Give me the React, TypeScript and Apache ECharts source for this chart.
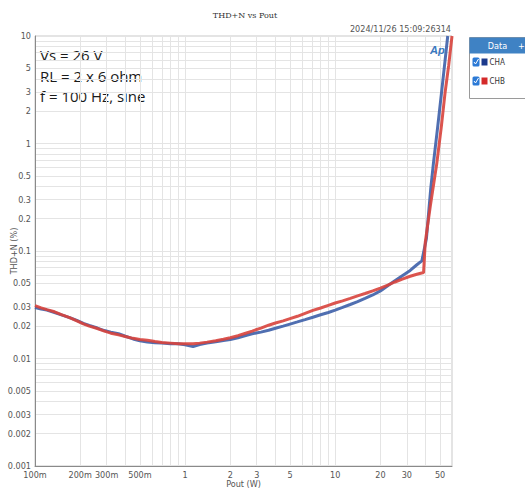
import React, { useEffect, useRef } from "react";
import * as echarts from "echarts";

const pA = [0.1, 0.11, 0.12, 0.135, 0.15, 0.17, 0.19, 0.21, 0.23, 0.26, 0.29, 0.32, 0.36, 0.4, 0.45, 0.5, 0.56, 0.63, 0.7, 0.8, 0.9, 1.0, 1.13, 1.25, 1.4, 1.6, 1.8, 2.0, 2.25, 2.5, 2.8, 3.2, 3.6, 4.0, 4.5, 5.0, 5.6, 6.3, 7.1, 8.0, 9.0, 10, 11.2, 12.6, 14.1, 15.8, 17.8, 20, 22.4, 25, 28, 31.6, 35, 37.8, 40.5, 43.3, 45.1, 48, 51, 54, 56.2];
const thdA = [0.0298, 0.0288, 0.0282, 0.0268, 0.0255, 0.024, 0.0226, 0.0212, 0.0203, 0.0192, 0.0182, 0.0176, 0.017, 0.0161, 0.0152, 0.0146, 0.0142, 0.014, 0.0139, 0.0137, 0.0137, 0.0134, 0.0129, 0.0135, 0.0139, 0.0143, 0.0147, 0.015, 0.0156, 0.0163, 0.017, 0.0176, 0.0183, 0.0191, 0.02, 0.0209, 0.0219, 0.023, 0.0242, 0.0255, 0.0268, 0.0282, 0.0299, 0.0318, 0.0338, 0.0362, 0.039, 0.0425, 0.0475, 0.053, 0.059, 0.066, 0.0745, 0.081, 0.13, 0.38, 0.65, 1.37, 2.9, 6.0, 10];

const pB = [0.1, 0.11, 0.12, 0.135, 0.15, 0.17, 0.19, 0.21, 0.23, 0.26, 0.29, 0.32, 0.36, 0.4, 0.45, 0.5, 0.56, 0.63, 0.7, 0.8, 0.9, 1.0, 1.13, 1.25, 1.4, 1.6, 1.8, 2.0, 2.25, 2.5, 2.8, 3.2, 3.6, 4.0, 4.5, 5.0, 5.6, 6.3, 7.1, 8.0, 9.0, 10, 11.2, 12.6, 14.1, 15.8, 17.8, 20, 22.4, 25, 28, 31.6, 35, 38.8, 39.8, 43, 47.5, 51, 54, 57, 60];
const thdB = [0.031, 0.0296, 0.0285, 0.0272, 0.0256, 0.024, 0.0224, 0.021, 0.02, 0.019, 0.018, 0.0172, 0.0166, 0.016, 0.0154, 0.015, 0.0148, 0.0144, 0.0141, 0.0139, 0.0137, 0.0137, 0.0137, 0.0139, 0.0142, 0.0146, 0.0151, 0.0156, 0.0163, 0.0171, 0.018, 0.0192, 0.0204, 0.0214, 0.0224, 0.0235, 0.0247, 0.0263, 0.028, 0.0295, 0.0312, 0.0328, 0.0344, 0.0362, 0.0382, 0.0402, 0.0425, 0.0452, 0.0482, 0.0515, 0.0548, 0.0582, 0.0608, 0.063, 0.12, 0.26, 0.65, 1.45, 3.0, 5.3, 10];

const xTickLabels = [0.1, 0.2, 0.3, 0.5, 1, 2, 3, 5, 10, 20, 30, 50];
const yTickLabels = [10, 5, 3, 2, 1, 0.5, 0.3, 0.2, 0.1, 0.05, 0.03, 0.02, 0.01, 0.005, 0.003, 0.002, 0.001];
const xGridValues = [0.1, 0.2, 0.3, 0.4, 0.5, 0.6, 0.7, 0.8, 0.9, 1, 2, 3, 4, 5, 6, 7, 8, 9, 10, 20, 30, 40, 50, 60];
const yGridValues = [
  0.001, 0.002, 0.003, 0.004, 0.005, 0.006, 0.007, 0.008, 0.009,
  0.01, 0.02, 0.03, 0.04, 0.05, 0.06, 0.07, 0.08, 0.09,
  0.1, 0.2, 0.3, 0.4, 0.5, 0.6, 0.7, 0.8, 0.9,
  1, 2, 3, 4, 5, 6, 7, 8, 9, 10,
];
const X_MIN = 0.1;
const X_MAX = 60;
const Y_MIN = 0.001;
const Y_MAX = 10;

const lg = (v: number) => Math.log10(v);
const unlg = (v: number) => Number(Math.pow(10, v).toPrecision(3));

const fmtX = (v: number) => {
  const p = unlg(v);
  return p < 1 ? `${Math.round(p * 1000)}m` : `${Math.round(p)}`;
};
const fmtY = (v: number) => `${unlg(v)}`;

const LABEL_FONT = "'DejaVu Sans Condensed', 'Liberation Sans Narrow', 'Liberation Sans', sans-serif";

export default function App() {
  const ref = useRef<HTMLDivElement>(null);
  useEffect(() => {
    document.body.style.margin = "0";
    if (!ref.current) return;
    const chart = echarts.init(ref.current, undefined, { renderer: "svg" });
    const option: any = {
      animation: false,
      backgroundColor: "#ffffff",
      grid: {
        left: 35,
        right: 73,
        top: 36,
        bottom: 30,
        containLabel: false,
        outerBoundsMode: "none",
        show: true,
        borderColor: "#c8c8c8",
        borderWidth: 1,
        backgroundColor: "transparent",
      },
      title: {
        text: "THD+N vs Pout",
        left: 240,
        top: 6,
        textAlign: "center",
        textStyle: { fontSize: 8, fontWeight: "normal", color: "#333", fontFamily: "'DejaVu Serif', serif" },
      },
      xAxis: {
        type: "value",
        min: lg(X_MIN),
        max: lg(X_MAX),
        name: "Pout (W)",
        nameLocation: "middle",
        nameGap: 13,
        nameMoveOverlap: false,
        nameTextStyle: { fontSize: 9, color: "#555", fontFamily: LABEL_FONT },
        axisLine: { show: true, onZero: false, lineStyle: { color: "#8a8a8a", width: 1 } },
        axisTick: { show: false, customValues: xGridValues.map(lg) },
        axisLabel: {
          customValues: xTickLabels.map(lg),
          formatter: fmtX,
          fontSize: 9,
          color: "#555",
          margin: 4,
          fontFamily: LABEL_FONT,
          showMinLabel: true,
          showMaxLabel: true,
        },
        splitLine: { show: true, lineStyle: { color: "#e4e4e4", width: 1 } },
      },
      yAxis: {
        type: "value",
        min: lg(Y_MIN),
        max: lg(Y_MAX),
        name: "THD+N (%)",
        nameLocation: "middle",
        nameGap: 17,
        nameRotate: 90,
        nameMoveOverlap: false,
        nameTextStyle: { fontSize: 9, color: "#555", fontFamily: LABEL_FONT },
        axisLine: { show: true, onZero: false, lineStyle: { color: "#8a8a8a", width: 1 } },
        axisTick: { show: false, customValues: yGridValues.map(lg) },
        axisLabel: {
          customValues: yTickLabels.map(lg),
          formatter: fmtY,
          fontSize: 9,
          color: "#555",
          margin: 4,
          fontFamily: LABEL_FONT,
        },
        splitLine: { show: true, lineStyle: { color: "#e4e4e4", width: 1 } },
      },
      series: [
        {
          name: "CHA",
          type: "line",
          data: pA.map((p, i) => [lg(p), lg(thdA[i])]),
          showSymbol: false,
          lineStyle: { color: "#3d5fa8", width: 3, opacity: 0.9 },
          itemStyle: { color: "#3d5fa8" },
          z: 3,
        },
        {
          name: "CHB",
          type: "line",
          data: pB.map((p, i) => [lg(p), lg(thdB[i])]),
          showSymbol: false,
          lineStyle: { color: "#d8423c", width: 3, opacity: 0.9 },
          itemStyle: { color: "#d8423c" },
          z: 4,
        },
      ],
      graphic: [
        {
          type: "text",
          right: 74,
          top: 24,
          style: { text: "2024/11/26 15:09:26314", fontSize: 9, fill: "#555", fontFamily: LABEL_FONT },
        },
        {
          type: "text",
          left: 40,
          top: 45,
          style: {
            text: "Vs = 26 V\nRL = 2 x 6 ohm\nf = 100 Hz, sine",
            fontSize: 15,
            lineHeight: 20.5,
            fill: "#1a1a1a",
            fontFamily: "'Open Sans', 'Noto Sans', sans-serif",
          },
        },
        {
          type: "text",
          left: 430,
          top: 44,
          style: { text: "Ap", fontSize: 11, fontWeight: "bold", fontStyle: "italic", fill: "#3a78c0", fontFamily: "'Liberation Sans', sans-serif" },
          z: 10,
        },
        {
          type: "group",
          left: 469,
          top: 37,
          children: [
            { type: "rect", shape: { x: 0, y: 0, width: 60, height: 61 }, style: { fill: "#ffffff", stroke: "#9a9a9a", lineWidth: 1 } },
            { type: "rect", shape: { x: 0, y: 0, width: 60, height: 16 }, style: { fill: "#3f82c4" } },
            { type: "text", x: 28, y: 8, style: { text: "Data", fontSize: 9, fill: "#ffffff", align: "center", verticalAlign: "middle", fontFamily: LABEL_FONT } },
            { type: "text", x: 52, y: 8, style: { text: "+", fontSize: 9, fill: "#ffffff", align: "center", verticalAlign: "middle", fontFamily: LABEL_FONT } },
            { type: "rect", shape: { x: 3, y: 20, width: 7, height: 9, r: 1.5 }, style: { fill: "#2c7ad6" } },
            { type: "polyline", shape: { points: [[4.5, 24.5], [6, 26.5], [9, 21.5]] }, style: { stroke: "#ffffff", lineWidth: 1, fill: "none" } },
            { type: "rect", shape: { x: 12, y: 21, width: 6, height: 7 }, style: { fill: "#1c3a8c" } },
            { type: "text", x: 20, y: 25, style: { text: "CHA", fontSize: 8, fill: "#333", verticalAlign: "middle", fontFamily: LABEL_FONT } },
            { type: "rect", shape: { x: 3, y: 39, width: 7, height: 9, r: 1.5 }, style: { fill: "#2c7ad6" } },
            { type: "polyline", shape: { points: [[4.5, 43.5], [6, 45.5], [9, 40.5]] }, style: { stroke: "#ffffff", lineWidth: 1, fill: "none" } },
            { type: "rect", shape: { x: 12, y: 40, width: 6, height: 7 }, style: { fill: "#d42a2a" } },
            { type: "text", x: 20, y: 44, style: { text: "CHB", fontSize: 8, fill: "#333", verticalAlign: "middle", fontFamily: LABEL_FONT } },
          ],
        },
      ],
    };
    chart.setOption(option);
    return () => chart.dispose();
  }, []);
  return <div ref={ref} style={{ width: 525, height: 496 }} />;
}
